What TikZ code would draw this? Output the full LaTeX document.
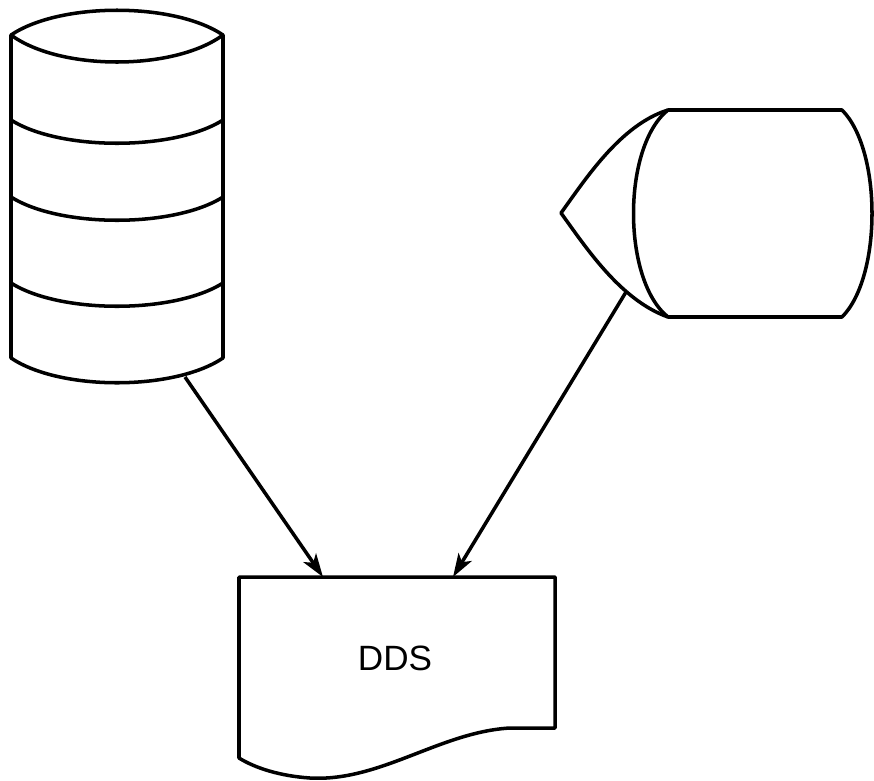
\documentclass[tikz,border=0pt]{standalone}
\usepackage{fontspec}
\setmainfont{Liberation Sans}
\usepackage{tikz}
\usetikzlibrary{arrows.meta}
\tikzset{
  outline/.style={draw=black, line width=3pt, line join=round},
  flow/.style={-{Stealth[length=7mm, width=4.6mm, inset=1.8mm]}, line width=3pt},
  label/.style={font=\fontsize{30}{32}\selectfont, inner sep=0pt},
}

\begin{document}
\begin{tikzpicture}[x=0.03cm, y=-0.03cm]
  \useasboundingbox (0,0) rectangle (874,780);

  % stacked disk
  \draw[outline] (11,35) .. controls (60,2) and (174,2) .. (223,35)
    -- (223,358) .. controls (174,391) and (60,391) .. (11,358) -- cycle;
  \draw[outline] (11,35) .. controls (60,71) and (174,71) .. (223,35);
  \foreach \y in {120,197,283}
    \draw[outline] (11,\y) .. controls (60,\y+31) and (174,\y+31) .. (223,\y);
  \coordinate (disk-out) at (185,377);

  % display unit
  \draw[outline] (668,110) -- (842,110)
    .. controls (882,150) and (882,277) .. (842,317) -- (668,317)
    .. controls (620,300) and (585,246) .. (561,213)
    .. controls (585,180) and (620,125) .. (668,110) -- cycle;
  \draw[outline] (668,317) .. controls (622,280) and (622,147) .. (668,110);
  \coordinate (disp-out) at (626,292);

  % document
  \draw[outline] (239,577) -- (555,577) -- (555,728) -- (510,728)
    .. controls (440,732) and (380,782) .. (310,778)
    .. controls (280,776) and (255,768) .. (239,758) -- cycle;
  \node[label] (dds) at (395,658) {DDS};
  \coordinate (dds-in-a) at (323,577);
  \coordinate (dds-in-b) at (453,577);

  \draw[flow] (disk-out)--(dds-in-a);
  \draw[flow] (disp-out)--(dds-in-b);
\end{tikzpicture}
\end{document}
